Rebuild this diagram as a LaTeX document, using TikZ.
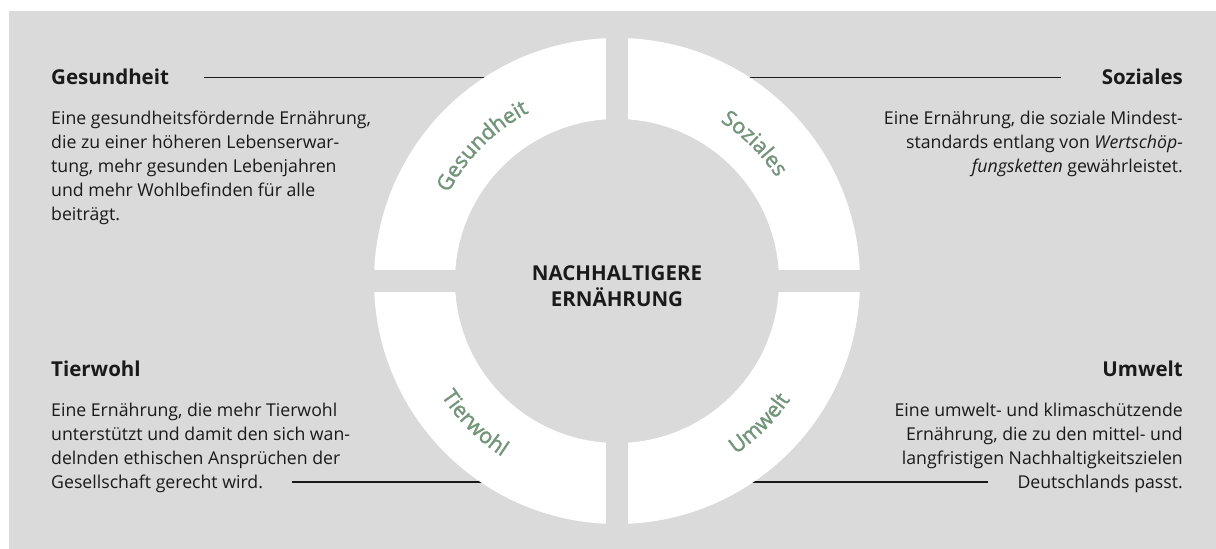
\documentclass[tikz,border=0pt]{standalone}
\usepackage{fontspec}
\setmainfont{Open Sans}
\newfontfamily\ringfam[FakeBold=1.6]{Open Sans}
\usetikzlibrary{positioning,calc,decorations.text}

\definecolor{panelgray}{HTML}{DADADA}
\definecolor{ringgreen}{HTML}{73967A}
\definecolor{inkblack}{HTML}{1A1A1A}
\newcommand{\ringfont}{\ringfam\fontsize{21.5}{21.5}\selectfont}

\begin{document}
\begin{tikzpicture}[
	x = 1pt, y = 1pt, % one unit per pixel of the layout
	head/.style={inner sep=0pt, font=\fontsize{20.5}{20.5}\selectfont\bfseries, text=inkblack},
	body/.style={inner sep=0pt, font=\fontsize{17.7}{24}\selectfont, text=inkblack},
	core/.style={inner sep=0pt, align=center, font=\fontsize{20.5}{26}\selectfont\bfseries, text=inkblack},
	rule/.style={draw=inkblack, line width=1.6pt},
	ringlabel/.style={decorate, decoration={text along path, text align=center, text color=ringgreen}},
	]

	\useasboundingbox (0,0) rectangle (1216,549);
	\fill[panelgray] (9,0) rectangle (1216,538);

	% centre of the ring
	\coordinate (C) at (617,268);

	% Headings and their texts
	\node[head, anchor=base west] (gesH) at (51,464) {Gesundheit};
	\node[body, align=left] (gesT) [below right=26pt and 0pt of gesH.base west] {Eine gesundheitsfördernde Ernährung,\\die zu einer höheren Lebenserwar-\\tung, mehr gesunden Lebenjahren\\und mehr Wohlbefinden für alle\\beiträgt.};

	\node[head, anchor=base east] (sozH) at (1183,464) {Soziales};
	\node[body, align=right] (sozT) [below left=26pt and 0pt of sozH.base east] {Eine Ernährung, die soziale Mindest-\\standards entlang von \textit{Wertschöp-}\\\textit{fungsketten} gewährleistet.};

	\node[head, anchor=base west] (tierH) at (51,172) {Tierwohl};
	\node[body, align=left] (tierT) [below right=26pt and 0pt of tierH.base west] {Eine Ernährung, die mehr Tierwohl\\unterstützt und damit den sich wan-\\delnden ethischen Ansprüchen der\\Gesellschaft gerecht wird.};

	\node[head, anchor=base east] (umwH) at (1183,172) {Umwelt};
	\node[body, align=right] (umwT) [below left=26pt and 0pt of umwH.base east] {Eine umwelt- und klimaschützende\\Ernährung, die zu den mittel- und\\langfristigen Nachhaltigkeitszielen\\Deutschlands passt.};

	% Rules running under the ring
	\coordinate (tierL) at (292,67);
	\coordinate (umwR) at (988,67);
	\draw[rule] ([xshift=35pt]gesH.east) -- (C |- gesH.east);
	\draw[rule] ([xshift=-41pt]sozH.west) -- (C |- sozH.west);
	\draw[rule] (tierL) -- (C |- tierL);
	\draw[rule] (umwR) -- (C |- umwR);

	% Ring with its four gaps
	\fill[white, even odd rule] (C) circle[radius=243] (C) circle[radius=162];
	\fill[panelgray] ($(C)+(-11,-250)$) rectangle ($(C)+(11,250)$);
	\fill[panelgray] ($(C)+(-250,-11)$) rectangle ($(C)+(250,11)$);

	% Labels along the ring
	\path[ringlabel, decoration={text={|\ringfont|Gesundheit}}] ($(C)+(180:190)$) arc[start angle=180, end angle=90, radius=190];
	\path[ringlabel, decoration={text={|\ringfont|Soziales}}] ($(C)+(90:190)$) arc[start angle=90, end angle=0, radius=190];
	\path[ringlabel, decoration={text={|\ringfont|Tierwohl}}] ($(C)+(180:210)$) arc[start angle=180, end angle=270, radius=210];
	\path[ringlabel, decoration={text={|\ringfont|Umwelt}}] ($(C)+(270:210)$) arc[start angle=270, end angle=360, radius=210];

	\node[core] (mid) at (617,263) {NACHHALTIGERE\\ERNÄHRUNG};

\end{tikzpicture}
\end{document}
